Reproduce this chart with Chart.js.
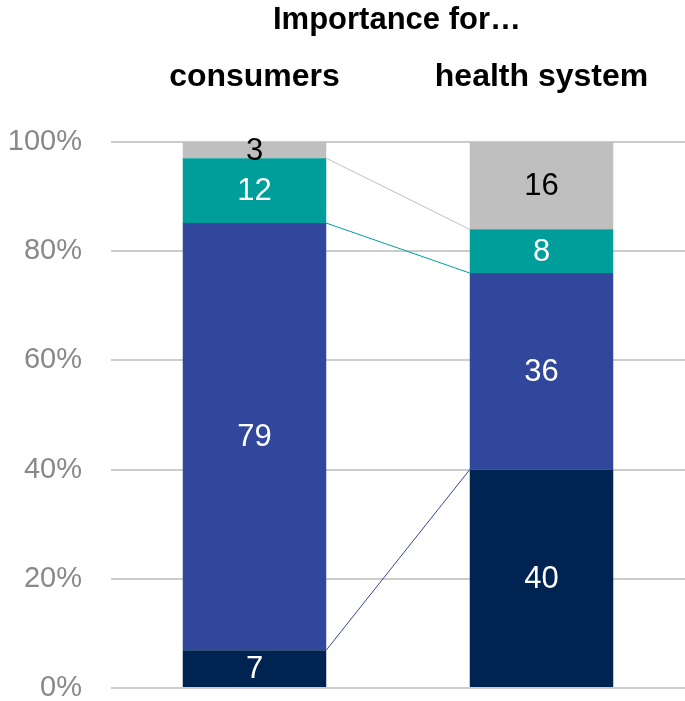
<!DOCTYPE html>
<html>
<head>
<meta charset="utf-8">
<script src="https://cdn.jsdelivr.net/npm/chart.js@4"></script>
<style>
  html, body { margin: 0; padding: 0; background: #fff; }
  #wrap { width: 685px; height: 701px; position: relative; }
</style>
</head>
<body>
<div id="wrap"><canvas id="chart"></canvas></div>
<script>
// data
const categories = ['consumers', 'health system'];
const seriesNames = ['navy', 'blue', 'teal', 'gray'];
const navyValues = [7, 40];
const blueValues = [79, 36];
const tealValues = [12, 8];
const grayValues = [3, 16];
const yTicks = [0, 20, 40, 60, 80, 100];
const headline = 'Importance for…';

const colors = ['#002452', '#31479b', '#009e9a', '#bfbfbf'];
const labelColors = ['#ffffff', '#ffffff', '#ffffff', '#000000'];
const FONT = '"Liberation Sans", Arial, sans-serif';

const raw = [navyValues, blueValues, tealValues, grayValues];
// 100% stacked: each column is scaled to its own total
const totals = categories.map((c, j) => raw.reduce((s, arr) => s + arr[j], 0));
const pct = raw.map(arr => arr.map((v, j) => v / totals[j] * 100));

// headline sits a bit right of centre in the original, so draw it by hand
const headlinePlugin = {
    id: 'headline',
    afterDraw(chart) {
        const ctx = chart.ctx;
        ctx.save();
        ctx.font = 'bold 31px ' + FONT;
        ctx.fillStyle = '#000';
        ctx.textAlign = 'center';
        ctx.textBaseline = 'alphabetic';
        ctx.fillText(headline, 397, 29);
        ctx.restore();
    }
};

// thin connector lines between the two bars at every segment top
const seriesLines = {
    id: 'seriesLines',
    afterDatasetsDraw(chart) {
        const ctx = chart.ctx;
        ctx.save();
        ctx.lineWidth = 1;
        for (let i = 0; i < raw.length - 1; i++) {
            const meta = chart.getDatasetMeta(i);
            const a = meta.data[0], b = meta.data[1];
            ctx.strokeStyle = colors[i + 1];
            ctx.beginPath();
            ctx.moveTo(a.x + a.width / 2, a.y);
            ctx.lineTo(b.x - b.width / 2, b.y);
            ctx.stroke();
        }
        ctx.restore();
    }
};

const segmentLabels = {
    id: 'segmentLabels',
    afterDatasetsDraw(chart) {
        const ctx = chart.ctx;
        ctx.save();
        ctx.font = '31px ' + FONT;
        ctx.textAlign = 'center';
        ctx.textBaseline = 'middle';
        chart.data.datasets.forEach((ds, i) => {
            chart.getDatasetMeta(i).data.forEach((el, j) => {
                ctx.fillStyle = labelColors[i];
                ctx.fillText(String(raw[i][j]), el.x, (el.y + el.base) / 2 + 1);
            });
        });
        ctx.restore();
    }
};

new Chart(document.getElementById('chart'), {
    type: 'bar',
    data: {
        labels: categories,
        datasets: seriesNames.map((name, i) => ({
            label: name,
            data: pct[i],
            backgroundColor: colors[i],
            borderWidth: 0,
            categoryPercentage: 1,
            barPercentage: 0.5
        }))
    },
    options: {
        responsive: true,
        maintainAspectRatio: false,
        animation: false,
        layout: { padding: 0 },
        plugins: {
            legend: { display: false },
            tooltip: { enabled: false },
            title: { display: false }
        },
        scales: {
            x: {
                stacked: true,
                position: 'top',
                grid: { display: false },
                border: { display: false },
                afterFit: scale => { scale.height = 142; scale.paddingLeft = 0; scale.paddingRight = 0; },
                ticks: {
                    color: '#000',
                    maxRotation: 0,
                    minRotation: 0,
                    autoSkip: false,
                    font: { family: FONT, size: 32, weight: 'bold', lineHeight: 1.2 },
                    padding: 38
                }
            },
            y: {
                stacked: true,
                min: 0,
                max: 100,
                afterBuildTicks: scale => { scale.ticks = yTicks.map(v => ({ value: v })); },
                afterFit: scale => { scale.width = 111; scale.paddingTop = 0; scale.paddingBottom = 13; },
                grid: { color: '#cccccc', lineWidth: 2, drawTicks: false },
                border: { display: false },
                ticks: {
                    color: '#898989',
                    font: { family: FONT, size: 29 },
                    padding: 29,
                    callback: v => v + '%'
                }
            }
        }
    },
    plugins: [seriesLines, segmentLabels, headlinePlugin]
});
</script>
</body>
</html>
